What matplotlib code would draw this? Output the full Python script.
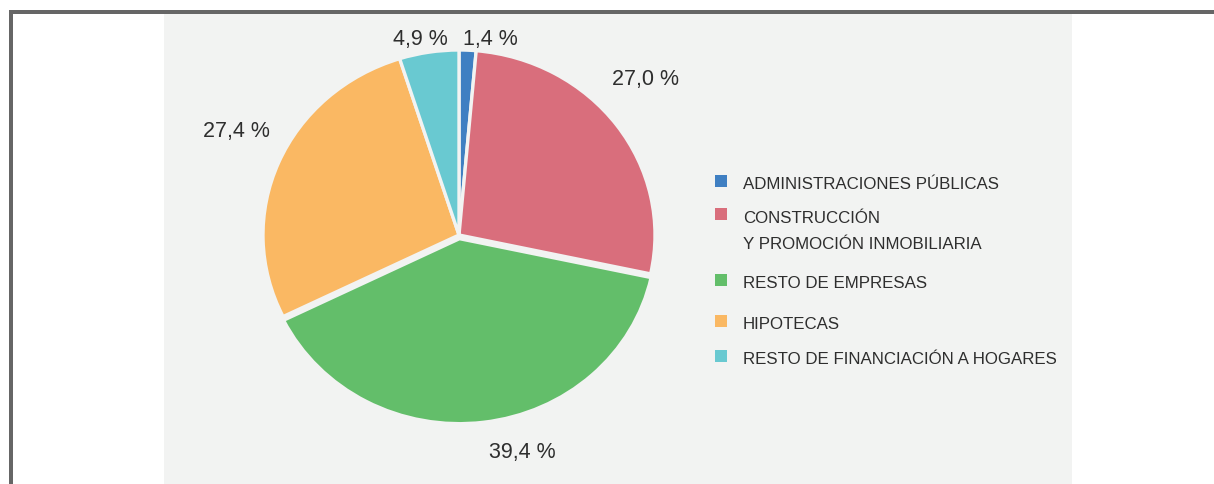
import matplotlib
matplotlib.use("Agg")
import matplotlib.pyplot as plt
from matplotlib.patches import Rectangle
from matplotlib import font_manager as fm

# data
categorias = ["ADMINISTRACIONES PÚBLICAS",
              "CONSTRUCCIÓN\nY PROMOCIÓN INMOBILIARIA",
              "RESTO DE EMPRESAS",
              "HIPOTECAS",
              "RESTO DE FINANCIACIÓN A HOGARES"]
valores = [1.4, 27.0, 39.4, 27.4, 4.9]
etiquetas = ["1,4 %", "27,0 %", "39,4 %", "27,4 %", "4,9 %"]
colores = ["#3f7fc2", "#d96e7c", "#63be6a", "#fab863", "#69c9d1"]

W, H = 1214, 484
fondo = "#f2f3f2"
texto = "#2e2e2e"

# fonts: condensed face for legend if there is one
narrow = None
for f in fm.fontManager.ttflist:
    if f.name == "Liberation Sans Narrow" and f.style == "normal" and f.weight in (400, "normal", "regular"):
        narrow = fm.FontProperties(fname=f.fname, size=14.5)
        break
if narrow is None:
    narrow = fm.FontProperties(family="Liberation Sans", size=12.2)
num_font = fm.FontProperties(family="Liberation Sans", size=15.5)

fig = plt.figure(figsize=(W / 100, H / 100), dpi=100)
ax = fig.add_axes([0, 0, 1, 1])
ax.patch.set_visible(False)

def fx(x):
    return x / W

def fy(y):
    return 1 - y / H

# background panel and frame
ax.add_patch(Rectangle((fx(164), 0), (1072 - 164) / W, fy(14), transform=fig.transFigure,
                       color=fondo, zorder=0, lw=0))
ax.add_patch(Rectangle((fx(9), 0), 4 / W, fy(10), transform=fig.transFigure,
                       color="#666666", zorder=0, lw=0))
ax.add_patch(Rectangle((fx(9), fy(14)), 1, 4 / H, transform=fig.transFigure,
                       color="#666666", zorder=0, lw=0))

# pie
cx, cy, rx, ry = 459, 235, 196, 185
explode = [0, 0, 0.02, 0, 0]
wedges, _ = ax.pie(valores, colors=colores, startangle=90, counterclock=False,
                   explode=explode,
                   wedgeprops=dict(edgecolor=fondo, linewidth=2.4, zorder=2))
ax.set_aspect("auto")
ax.set_xlim(-cx / rx, (W - cx) / rx)
ax.set_ylim(-(H - cy) / ry, cy / ry)
ax.axis("off")

# percentage labels (pixel baseline positions)
pos_lbl = [(490, 45), (646, 85), (522, 458), (236, 137), (420, 45)]
for lbl, (px, py) in zip(etiquetas, pos_lbl):
    ax.text((px - cx) / rx, (cy - py) / ry, lbl, ha="center", va="baseline",
            fontproperties=num_font, color=texto)

# legend
base_leg = [189, 223, 288, 329, 364]
cuad_leg = [175, 208, 274, 315, 350]
for cat, col, by, sy in zip(categorias, colores, base_leg, cuad_leg):
    ax.add_patch(Rectangle((fx(715), fy(sy + 12)), 12 / W, 12 / H,
                           transform=fig.transFigure, color=col, lw=0, zorder=3))
    for i, linea in enumerate(cat.split("\n")):
        fig.text(fx(743), fy(by + i * 26), linea, ha="left", va="baseline",
                 fontproperties=narrow, color=texto)

fig.savefig("out.png", dpi=100, facecolor="white")
